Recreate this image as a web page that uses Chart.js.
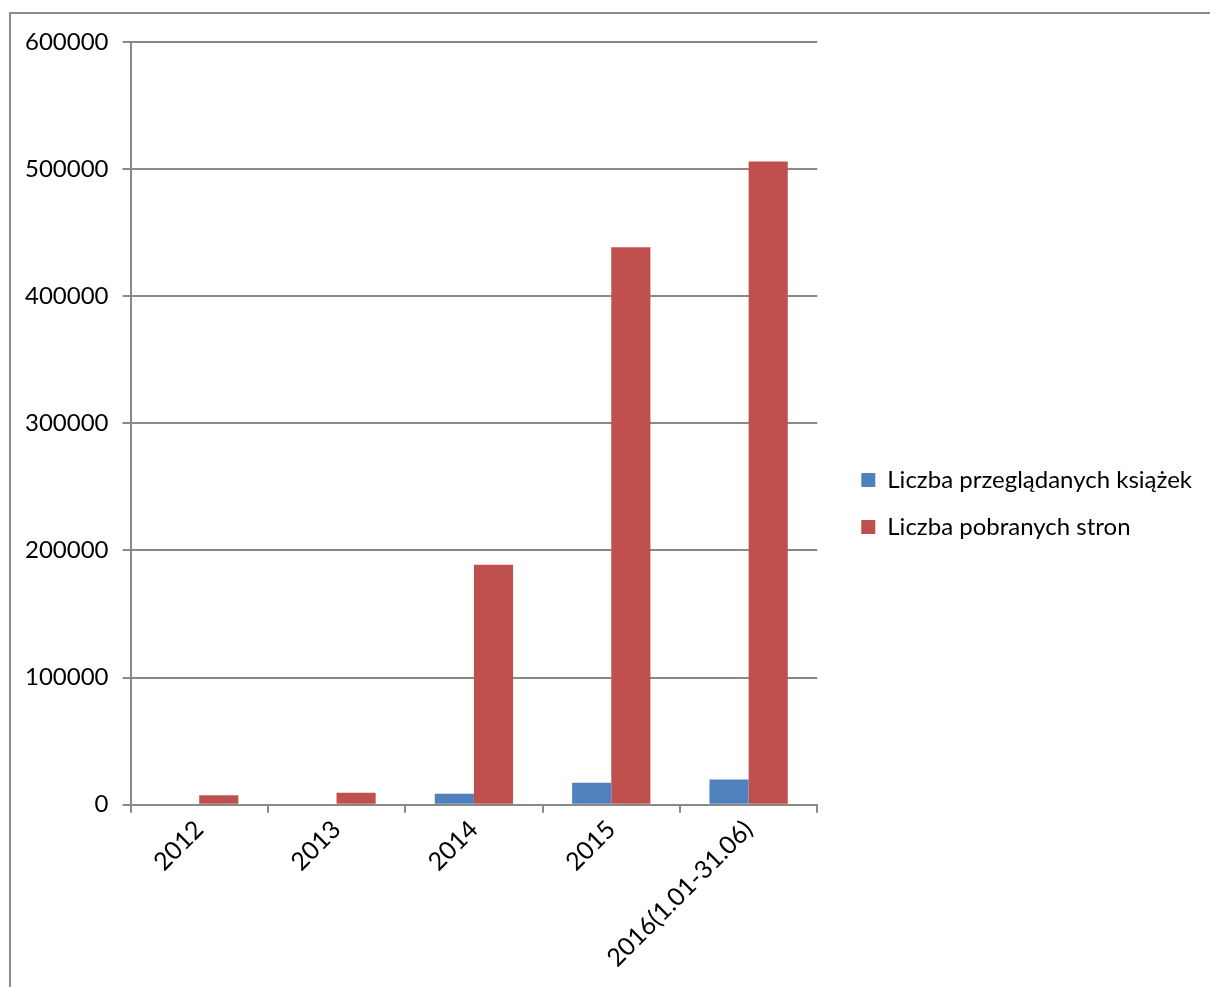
<!DOCTYPE html>
<html lang="pl">
<head>
<meta charset="utf-8">
<title>Liczba przeglądanych książek i pobranych stron</title>
<script src="https://cdn.jsdelivr.net/npm/chart.js@4.4.1/dist/chart.umd.min.js"></script>
<style>
    html, body { margin: 0; padding: 0; background: #fff; overflow: hidden; }
    #frame {
        position: absolute; left: 9px; top: 12px;
        width: 1400px; height: 1200px;
        border: 2px solid #8c8c8c;
    }
    #wrap { position: absolute; left: 0; top: 0; width: 1210px; height: 987px; }
</style>
</head>
<body>
<div id="frame"></div>
<div id="wrap"><canvas id="myChart"></canvas></div>
<script>
const categories = ['2012', '2013', '2014', '2015', '2016(1.01-31.06)'];
const booksViewed = [0, 0, 8600, 17300, 19700];
const pagesDownloaded = [7300, 9400, 188800, 438500, 506000];
const yTicks = [0, 100000, 200000, 300000, 400000, 500000, 600000];

const seriesNames = ['Liczba przeglądanych książek', 'Liczba pobranych stron'];

const axisColor = '#898989';
const fontFamily = 'Lato, "Open Sans", sans-serif';

const ctx = document.getElementById('myChart').getContext('2d');
const myChart = new Chart(ctx, {
    type: 'bar',
    data: {
        labels: categories,
        datasets: [{
            label: seriesNames[0],
            data: booksViewed,
            backgroundColor: '#4f81bd',
            borderWidth: 0,
            barPercentage: 1,
            categoryPercentage: 0.57
        }, {
            label: seriesNames[1],
            data: pagesDownloaded,
            backgroundColor: '#c0504d',
            borderWidth: 0,
            barPercentage: 1,
            categoryPercentage: 0.57
        }]
    },
    options: {
        responsive: true,
        maintainAspectRatio: false,
        animation: false,
        layout: {
            padding: { left: 11, top: 32, right: 8, bottom: 12 }
        },
        plugins: {
            legend: {
                position: 'right',
                maxWidth: 372,
                labels: {
                    boxWidth: 14,
                    boxHeight: 14,
                    padding: 23,
                    color: '#000',
                    font: { family: fontFamily, size: 24 }
                }
            },
            tooltip: { enabled: false }
        },
        scales: {
            x: {
                grid: {
                    drawOnChartArea: false,
                    color: axisColor,
                    lineWidth: 2,
                    tickLength: 8
                },
                border: { color: axisColor, width: 2 },
                ticks: {
                    color: '#000',
                    minRotation: 45,
                    maxRotation: 45,
                    padding: 2,
                    font: { family: fontFamily, size: 25 }
                }
            },
            y: {
                min: 0,
                max: 600000,
                afterBuildTicks: (axis) => {
                    axis.ticks = yTicks.map(v => ({ value: v }));
                },
                grid: {
                    color: axisColor,
                    lineWidth: 2,
                    tickLength: 8
                },
                border: { color: axisColor, width: 2 },
                ticks: {
                    color: '#000',
                    padding: 14,
                    callback: (value) => String(value),
                    font: { family: fontFamily, size: 24 }
                }
            },
            // empty axes, they only keep gaps above the plot and before the legend
            gap: {
                position: 'right',
                grid: { display: false },
                border: { display: false },
                ticks: { display: false },
                afterFit: (axis) => { axis.width = 21; }
            },
            gapTop: {
                position: 'top',
                grid: { display: false },
                border: { display: false },
                ticks: { display: false },
                afterFit: (axis) => { axis.height = 10; }
            }
        }
    }
});
</script>
</body>
</html>
